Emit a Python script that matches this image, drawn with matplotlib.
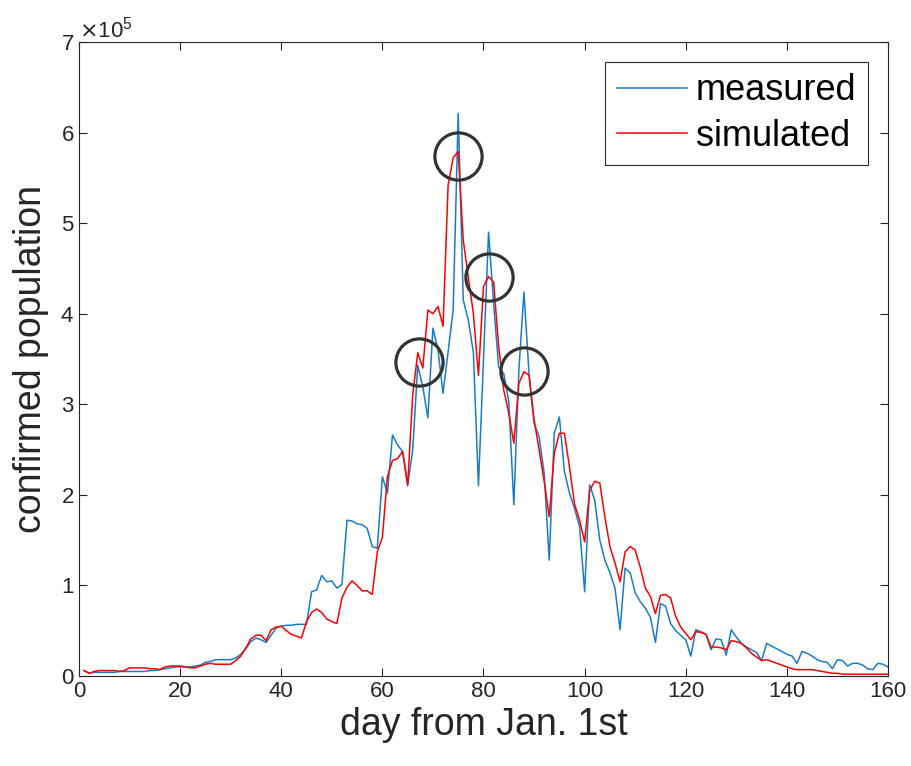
import matplotlib
matplotlib.use("Agg")
import matplotlib.pyplot as plt
from matplotlib.ticker import ScalarFormatter

# ─────────────────────────────────────────────
#  Dados (unidades de 1e5 pessoas)
# ─────────────────────────────────────────────

dias = list(range(1, 161))

medido = [
    0.06, 0.03, 0.04, 0.04, 0.04, 0.04, 0.04, 0.05, 0.05, 0.05,
    0.05, 0.05, 0.05, 0.06, 0.06, 0.07, 0.08, 0.09, 0.10, 0.10,
    0.10, 0.10, 0.11, 0.12, 0.15, 0.16, 0.18, 0.18, 0.18, 0.18,
    0.20, 0.24, 0.30, 0.38, 0.42, 0.40, 0.37, 0.45, 0.53, 0.55,
    0.56, 0.56, 0.57, 0.57, 0.57, 0.93, 0.95, 1.11, 1.04, 1.05,
    0.97, 1.01, 1.72, 1.71, 1.68, 1.67, 1.63, 1.43, 1.41, 2.20,
    2.02, 2.66, 2.55, 2.48, 2.10, 2.50, 3.43, 3.19, 2.85, 3.84,
    3.60, 3.12, 3.58, 4.04, 6.21, 4.15, 3.93, 3.57, 2.10, 3.50,
    4.90, 4.12, 3.41, 3.34, 3.03, 1.89, 3.38, 4.24, 3.34, 2.79,
    2.64, 2.24, 1.28, 2.68, 2.86, 2.26, 2.02, 1.85, 1.65, 0.93,
    2.11, 1.94, 1.50, 1.28, 1.14, 0.97, 0.51, 1.19, 1.14, 0.92,
    0.82, 0.75, 0.65, 0.37, 0.80, 0.77, 0.58, 0.50, 0.45, 0.40,
    0.22, 0.51, 0.49, 0.46, 0.29, 0.41, 0.40, 0.23, 0.51, 0.43,
    0.36, 0.32, 0.29, 0.26, 0.17, 0.36, 0.33, 0.30, 0.27, 0.24,
    0.22, 0.14, 0.27, 0.25, 0.22, 0.18, 0.16, 0.15, 0.08, 0.18,
    0.17, 0.11, 0.14, 0.14, 0.12, 0.08, 0.07, 0.14, 0.13, 0.10,
]

simulado = [
    0.06, 0.03, 0.05, 0.06, 0.06, 0.06, 0.06, 0.05, 0.06, 0.09,
    0.09, 0.09, 0.09, 0.08, 0.08, 0.07, 0.10, 0.11, 0.11, 0.11,
    0.10, 0.09, 0.09, 0.11, 0.13, 0.14, 0.13, 0.13, 0.13, 0.13,
    0.17, 0.22, 0.31, 0.41, 0.45, 0.45, 0.39, 0.51, 0.54, 0.55,
    0.50, 0.46, 0.44, 0.42, 0.60, 0.70, 0.74, 0.70, 0.63, 0.60,
    0.58, 0.86, 0.98, 1.05, 1.00, 0.94, 0.94, 0.90, 1.37, 1.53,
    2.20, 2.38, 2.40, 2.48, 2.11, 3.10, 3.57, 3.40, 4.04, 4.00,
    4.08, 3.86, 5.42, 5.72, 5.79, 4.81, 4.40, 4.00, 3.32, 4.30,
    4.41, 4.35, 3.64, 3.16, 2.90, 2.57, 3.23, 3.36, 3.32, 2.83,
    2.50, 2.15, 1.76, 2.46, 2.68, 2.68, 2.31, 1.90, 1.72, 1.48,
    2.05, 2.15, 2.13, 1.76, 1.43, 1.25, 1.04, 1.37, 1.43, 1.39,
    1.20, 0.97, 0.88, 0.69, 0.89, 0.90, 0.86, 0.66, 0.54, 0.47,
    0.40, 0.49, 0.48, 0.46, 0.32, 0.32, 0.31, 0.29, 0.39, 0.38,
    0.36, 0.31, 0.25, 0.21, 0.17, 0.18, 0.16, 0.14, 0.12, 0.10,
    0.08, 0.07, 0.07, 0.07, 0.07, 0.06, 0.05, 0.04, 0.03, 0.03,
    0.02, 0.02, 0.02, 0.02, 0.02, 0.02, 0.02, 0.02, 0.02, 0.02,
]

# picos destacados com círculos
picos_dia = [74.9, 81.1, 67.2, 88.0]
picos_valor = [5.74, 4.41, 3.47, 3.37]

escala = 1e5

# ─────────────────────────────────────────────
#  Gráfico
# ─────────────────────────────────────────────

plt.rcParams["font.family"] = ["Liberation Sans", "DejaVu Sans"]

fig = plt.figure(figsize=(9.12, 7.66), dpi=100)
ax = fig.add_axes([0.0866, 0.1175, 0.8871, 0.8277])

ax.plot(dias, [v * escala for v in medido], color="#1a7cc6", lw=1.1, label="measured")
ax.plot(dias, [v * escala for v in simulado], color="#FF0000", lw=1.1, label="simulated")

ax.plot(picos_dia, [v * escala for v in picos_valor], linestyle="none", marker="o",
        markersize=34, markerfacecolor="none", markeredgecolor="#333333",
        markeredgewidth=2.3)

ax.set_xlim(0, 160)
ax.set_ylim(0, 7e5)
ax.set_xticks(range(0, 161, 20))
ax.set_yticks([i * escala for i in range(8)])

fmt = ScalarFormatter(useMathText=True)
fmt.set_powerlimits((0, 0))
ax.yaxis.set_major_formatter(fmt)
ax.yaxis.get_offset_text().set_fontsize(16)
ax.yaxis.get_offset_text().set_color("#555555")

ax.tick_params(direction="in", length=5.5, width=0.8, labelsize=16,
               colors="#262626", top=True, right=True)
for sp in ax.spines.values():
    sp.set_color("#262626")
    sp.set_linewidth(0.8)

ax.set_xlabel("day from Jan. 1st", fontsize=27, color="#262626", labelpad=4)
ax.set_ylabel("confirmed population", fontsize=27, color="#262626", labelpad=8)

leg = ax.legend(loc="upper right", fontsize=26, fancybox=False, framealpha=1,
                edgecolor="#262626", handlelength=1.95, borderaxespad=0.55,
                labelspacing=0.28, handletextpad=0.25, borderpad=0.32)
leg.get_frame().set_linewidth(0.8)

fig.savefig("out.png", dpi=100)
plt.close(fig)
